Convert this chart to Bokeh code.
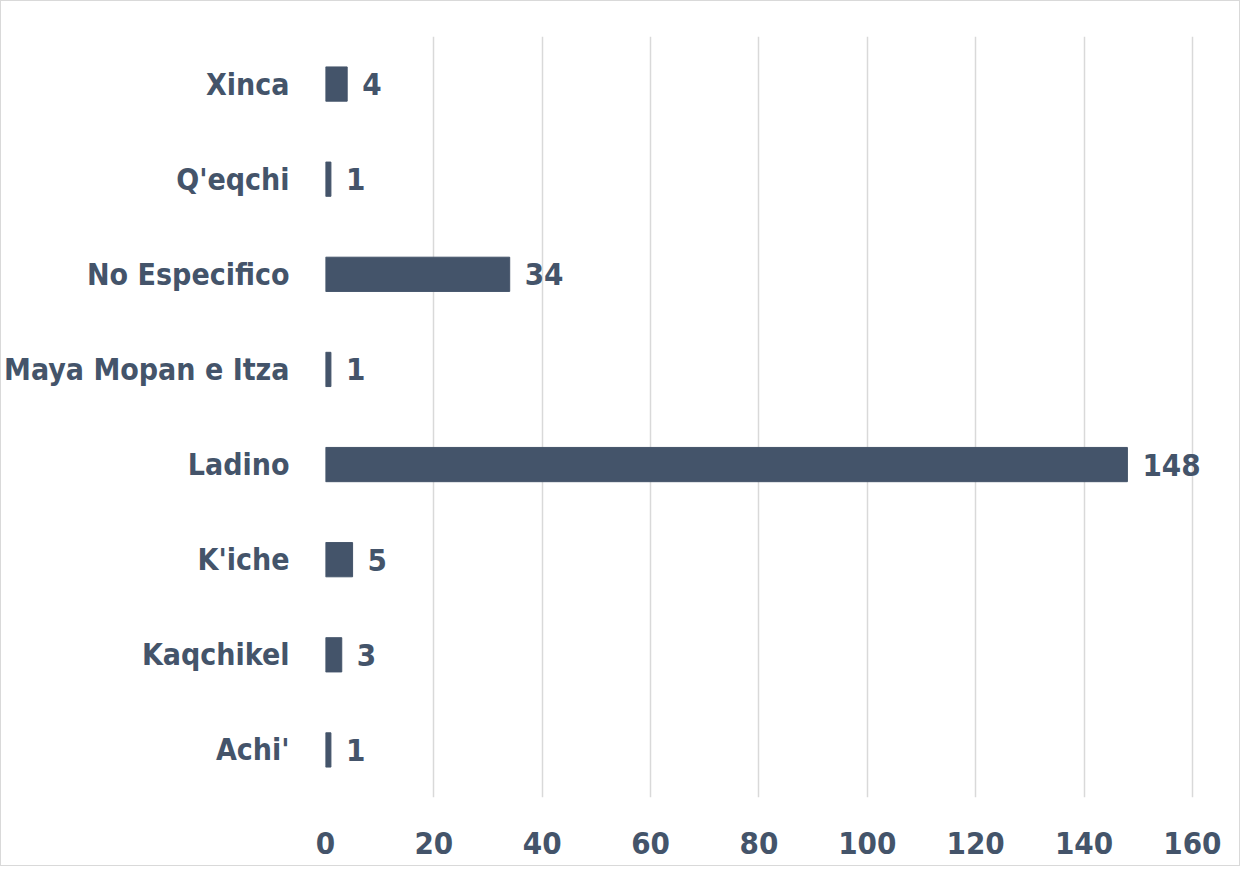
from bokeh.plotting import figure
from bokeh.models import ColumnDataSource, FixedTicker, Range1d
from bokeh.core.properties import value
from bokeh.embed import file_html
from bokeh.resources import INLINE

categories = ["Achi'", "Kaqchikel", "K'iche", "Ladino", "Maya Mopan e Itza", "No Especifico", "Q'eqchi", "Xinca"]
counts = [1, 3, 5, 148, 1, 34, 1, 4]
x_ticks = [0, 20, 40, 60, 80, 100, 120, 140, 160]

FONT = "'DejaVu Sans Condensed', 'Liberation Sans', sans-serif"
COLOR = "#44546A"

src = ColumnDataSource(dict(cat=categories, val=counts, lbl=[str(v) for v in counts]))

p = figure(width=1240, height=866, y_range=categories, x_range=Range1d(0, 165),
           output_backend="svg", toolbar_location=None,
           min_border_left=318, min_border_right=22, min_border_top=35, min_border_bottom=70)
p.outline_line_color = None
p.border_fill_color = "white"
p.background_fill_color = "white"
p.styles = {"border": "1px solid #D9D9D9", "box-sizing": "border-box"}

p.hbar(y="cat", right="val", left=0, height=0.36, source=src, color=COLOR)
p.text(x="val", y="cat", text="lbl", source=src, x_offset=15,
       text_font=value(FONT), text_font_style="bold", text_font_size="31px",
       text_color=COLOR, text_baseline="middle", text_align="left")

p.xaxis.ticker = FixedTicker(ticks=x_ticks)
p.xgrid.ticker = FixedTicker(ticks=x_ticks)
p.xgrid.grid_line_color = "#D9D9D9"
p.xgrid.grid_line_width = 1.5
p.ygrid.grid_line_color = None

for ax in (p.xaxis, p.yaxis):
    ax.axis_line_color = None
    ax.major_tick_line_color = None
    ax.minor_tick_line_color = None
    ax.major_label_text_font = FONT
    ax.major_label_text_font_style = "bold"
    ax.major_label_text_color = COLOR

p.xaxis.major_label_text_font_size = "31px"
p.yaxis.major_label_text_font_size = "30px"
p.xaxis.major_label_standoff = 28
p.yaxis.major_label_standoff = 30

open("out.html", "w").write(file_html(p, INLINE))
